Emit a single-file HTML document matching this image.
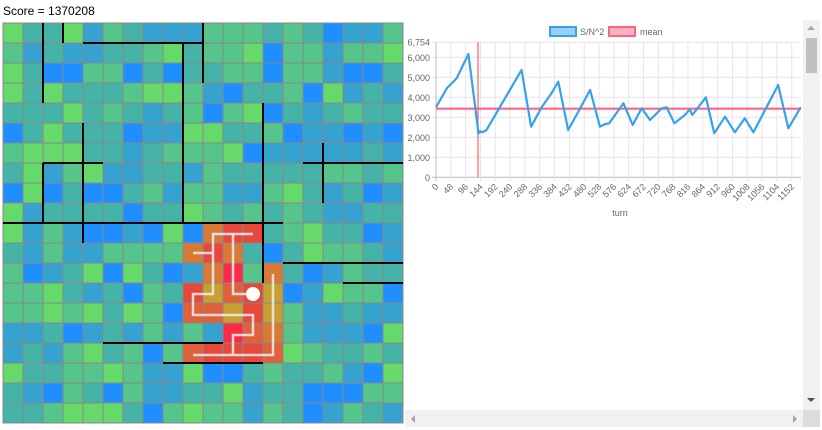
<!DOCTYPE html>
<html><head><meta charset="utf-8"><style>
body{margin:0;width:822px;height:430px;background:#fff;overflow:hidden;font-family:"Liberation Sans",sans-serif;position:relative}
#score{position:absolute;left:3px;top:4px;font-size:12px;color:#000}
svg{position:absolute;left:0;top:0}
</style></head><body>
<div id="score">Score = 1370208</div>
<svg id="grid" width="410" height="430"></svg>
<svg id="chart" width="822" height="430" style="left:0;top:0;pointer-events:none"></svg>
<div style="position:absolute;left:803px;top:20px;width:17px;height:390px;background:#f1f1f1">
  <div style="position:absolute;left:4px;top:6px;width:0;height:0;border-left:4px solid transparent;border-right:4px solid transparent;border-bottom:4px solid #a3a3a3"></div>
  <div style="position:absolute;left:3px;top:18px;width:11px;height:35px;background:#c1c1c1"></div>
  <div style="position:absolute;left:4px;top:378px;width:0;height:0;border-left:4px solid transparent;border-right:4px solid transparent;border-top:4px solid #505050"></div>
</div>
<div style="position:absolute;left:405px;top:410px;width:415px;height:17px;background:#f1f1f1">
  <div style="position:absolute;left:6px;top:5px;width:0;height:0;border-top:4px solid transparent;border-bottom:4px solid transparent;border-right:4px solid #a3a3a3"></div>
  <div style="position:absolute;left:388px;top:5px;width:0;height:0;border-top:4px solid transparent;border-bottom:4px solid transparent;border-left:4px solid #a3a3a3"></div>
  <div style="position:absolute;left:398px;top:0;width:17px;height:17px;background:#dcdcdc"></div>
</div>
<script>
const NS="http://www.w3.org/2000/svg";
function mk(p,t,a){const e=document.createElementNS(NS,t);for(const k in a)e.setAttribute(k,a[k]);p.appendChild(e);return e;}
// ---- grid ----
const gridRows=[
"02203123331112124331","13233221021104113110","02441142422114113442","02022210013422140323",
"22202123214104232122","42022243300221433434","10002232111043333323","20310332231222221121",
"40424421311331023243","03222242201212123322","0313443404ORR2102243","231331111ORO24201123",
"1432040243OC1O243122","110232412RGQRG430114","110102014QQGRG133233","33243231313CQO133340",
"323102141QRRRQ012212","02211013304421221340","23412413322032244411","22100024101131243123"];
const cellColors={"0":"#66d96b","1":"#55c58c","2":"#45b3a8","3":"#35a2d0","4":"#1f8fff","O":"#d87a35","R":"#e8473b","C":"#fb2a47","G":"#c8a031","Q":"#e0603a"};
const walls=[[2,0,2,4],[3,0,3,1],[4,1,10,1],[9,1,9,10],[10,0,10,3],[2,7,2,10],[2,7,5,7],[4,5,4,11],[0,10,14,10],[13,4,13,13],[15,7,20,7],[16,6,16,9],[14,12,20,12],[17,13,20,13],[5,16,11,16],[8,17,13,17]];
const paths=[[[193,253],[213,253]],[[253,234],[213,234],[213,294],[193,294],[193,315],[253,315],[253,335],[233,335],[233,355]],[[233,234],[233,294],[253,294]],[[273,274],[273,355],[193,355]]];
const g=document.getElementById('grid');
gridRows.forEach((row,r)=>{for(let c=0;c<20;c++){
  const rc=mk(g,'rect',{x:3+20*c,y:23+20*r,width:20,height:20,fill:cellColors[row[c]],stroke:'#888','stroke-width':1});
  
  
}});
walls.forEach(w=>{
  const l=mk(g,'line',{x1:3+20*w[0],y1:23+20*w[1],x2:3+20*w[2],y2:23+20*w[3],stroke:'#000','stroke-width':2});
  
  
});
paths.forEach(p=>{
  const pl=mk(g,'polyline',{points:p.map(q=>q.join(',')).join(' '),fill:'none',stroke:'#e8e8e8','stroke-width':2.5,'stroke-opacity':0.9});
  
  
});
const dot=mk(g,'circle',{cx:253,cy:294,r:7,fill:'#fff'});



// ---- chart ----
const turns=[0,35,67,105,135,137,142,150,163,277,308,342,374,396,428,455,499,531,545,561,607,637,666,693,731,747,772,806,822,830,874,901,936,968,1000,1028,1108,1141,1181];
const values=[3500,4450,4950,6165,2530,2183,2300,2250,2350,5365,2530,3500,4200,4780,2365,3115,4365,2530,2650,2700,3700,2615,3450,2865,3450,3500,2700,3115,3400,3115,4000,2200,3030,2250,2950,2250,4615,2450,3500];
const meanValue=3430;
const markerTurn=136;
const yTicks=[0,1000,2000,3000,4000,5000,6000,6754];
const xTickStep=48, xTickMax=1152;
const ch=document.getElementById('chart');
const X0=436,X1=801,Y0=177.3,YMAX=6754,YTOP=42.2,TMAX=1182;
const xs=t=>X0+t*(X1-X0)/TMAX;
const ys=v=>Y0-v*(Y0-YTOP)/YMAX;
yTicks.forEach(v=>{
  const l=mk(ch,'line',{x1:X0-4,x2:X1,y1:ys(v),y2:ys(v),stroke:v===0?'#bbb':'#e6e6e6','stroke-width':1});
  
  
  const t=mk(ch,'text',{x:X0-6,y:ys(v)+3.5,'text-anchor':'end','font-size':9,fill:'#666','font-family':'Liberation Sans, sans-serif'});
  t.textContent=v.toLocaleString('en-US');
  
  
});
for(let t=0;t<=xTickMax;t+=xTickStep){
  const x=xs(t);
  const l=mk(ch,'line',{x1:x,x2:x,y1:YTOP,y2:Y0+4,stroke:t===0?'#bbb':'#e6e6e6','stroke-width':1});
  
  
  const tx=mk(ch,'text',{x:x+3,y:Y0+10,'text-anchor':'end','font-size':9,fill:'#666','font-family':'Liberation Sans, sans-serif',transform:`rotate(-45 ${x+3} ${Y0+10})`});
  tx.textContent=String(t);
  
  
}
const xl=mk(ch,'text',{x:620,y:216,'text-anchor':'middle','font-size':9,fill:'#666','font-family':'Liberation Sans, sans-serif'});
xl.textContent='turn';


const mline=mk(ch,'line',{x1:X0,x2:X1,y1:ys(meanValue),y2:ys(meanValue),stroke:'#ff6384','stroke-width':2.2});


const vline=mk(ch,'line',{x1:xs(markerTurn),x2:xs(markerTurn),y1:YTOP,y2:Y0,stroke:'#ff6060','stroke-width':1.2});


const sl=mk(ch,'polyline',{points:turns.map((t,i)=>xs(t)+','+ys(values[i])).join(' '),fill:'none',stroke:'#36a2eb','stroke-width':2.2,'stroke-linejoin':'round'});


// legend
const lb1=mk(ch,'rect',{x:550,y:27,width:26,height:9,fill:'rgba(54,162,235,0.5)',stroke:'#36a2eb','stroke-width':2});


const lt1=mk(ch,'text',{x:580,y:35,'font-size':9,fill:'#666','font-family':'Liberation Sans, sans-serif'});
lt1.textContent='S/N^2';


const lb2=mk(ch,'rect',{x:609,y:27,width:26,height:9,fill:'rgba(255,99,132,0.5)',stroke:'#ff6384','stroke-width':2});


const lt2=mk(ch,'text',{x:640,y:35,'font-size':9,fill:'#666','font-family':'Liberation Sans, sans-serif'});
lt2.textContent='mean';


</script>
</body></html>
